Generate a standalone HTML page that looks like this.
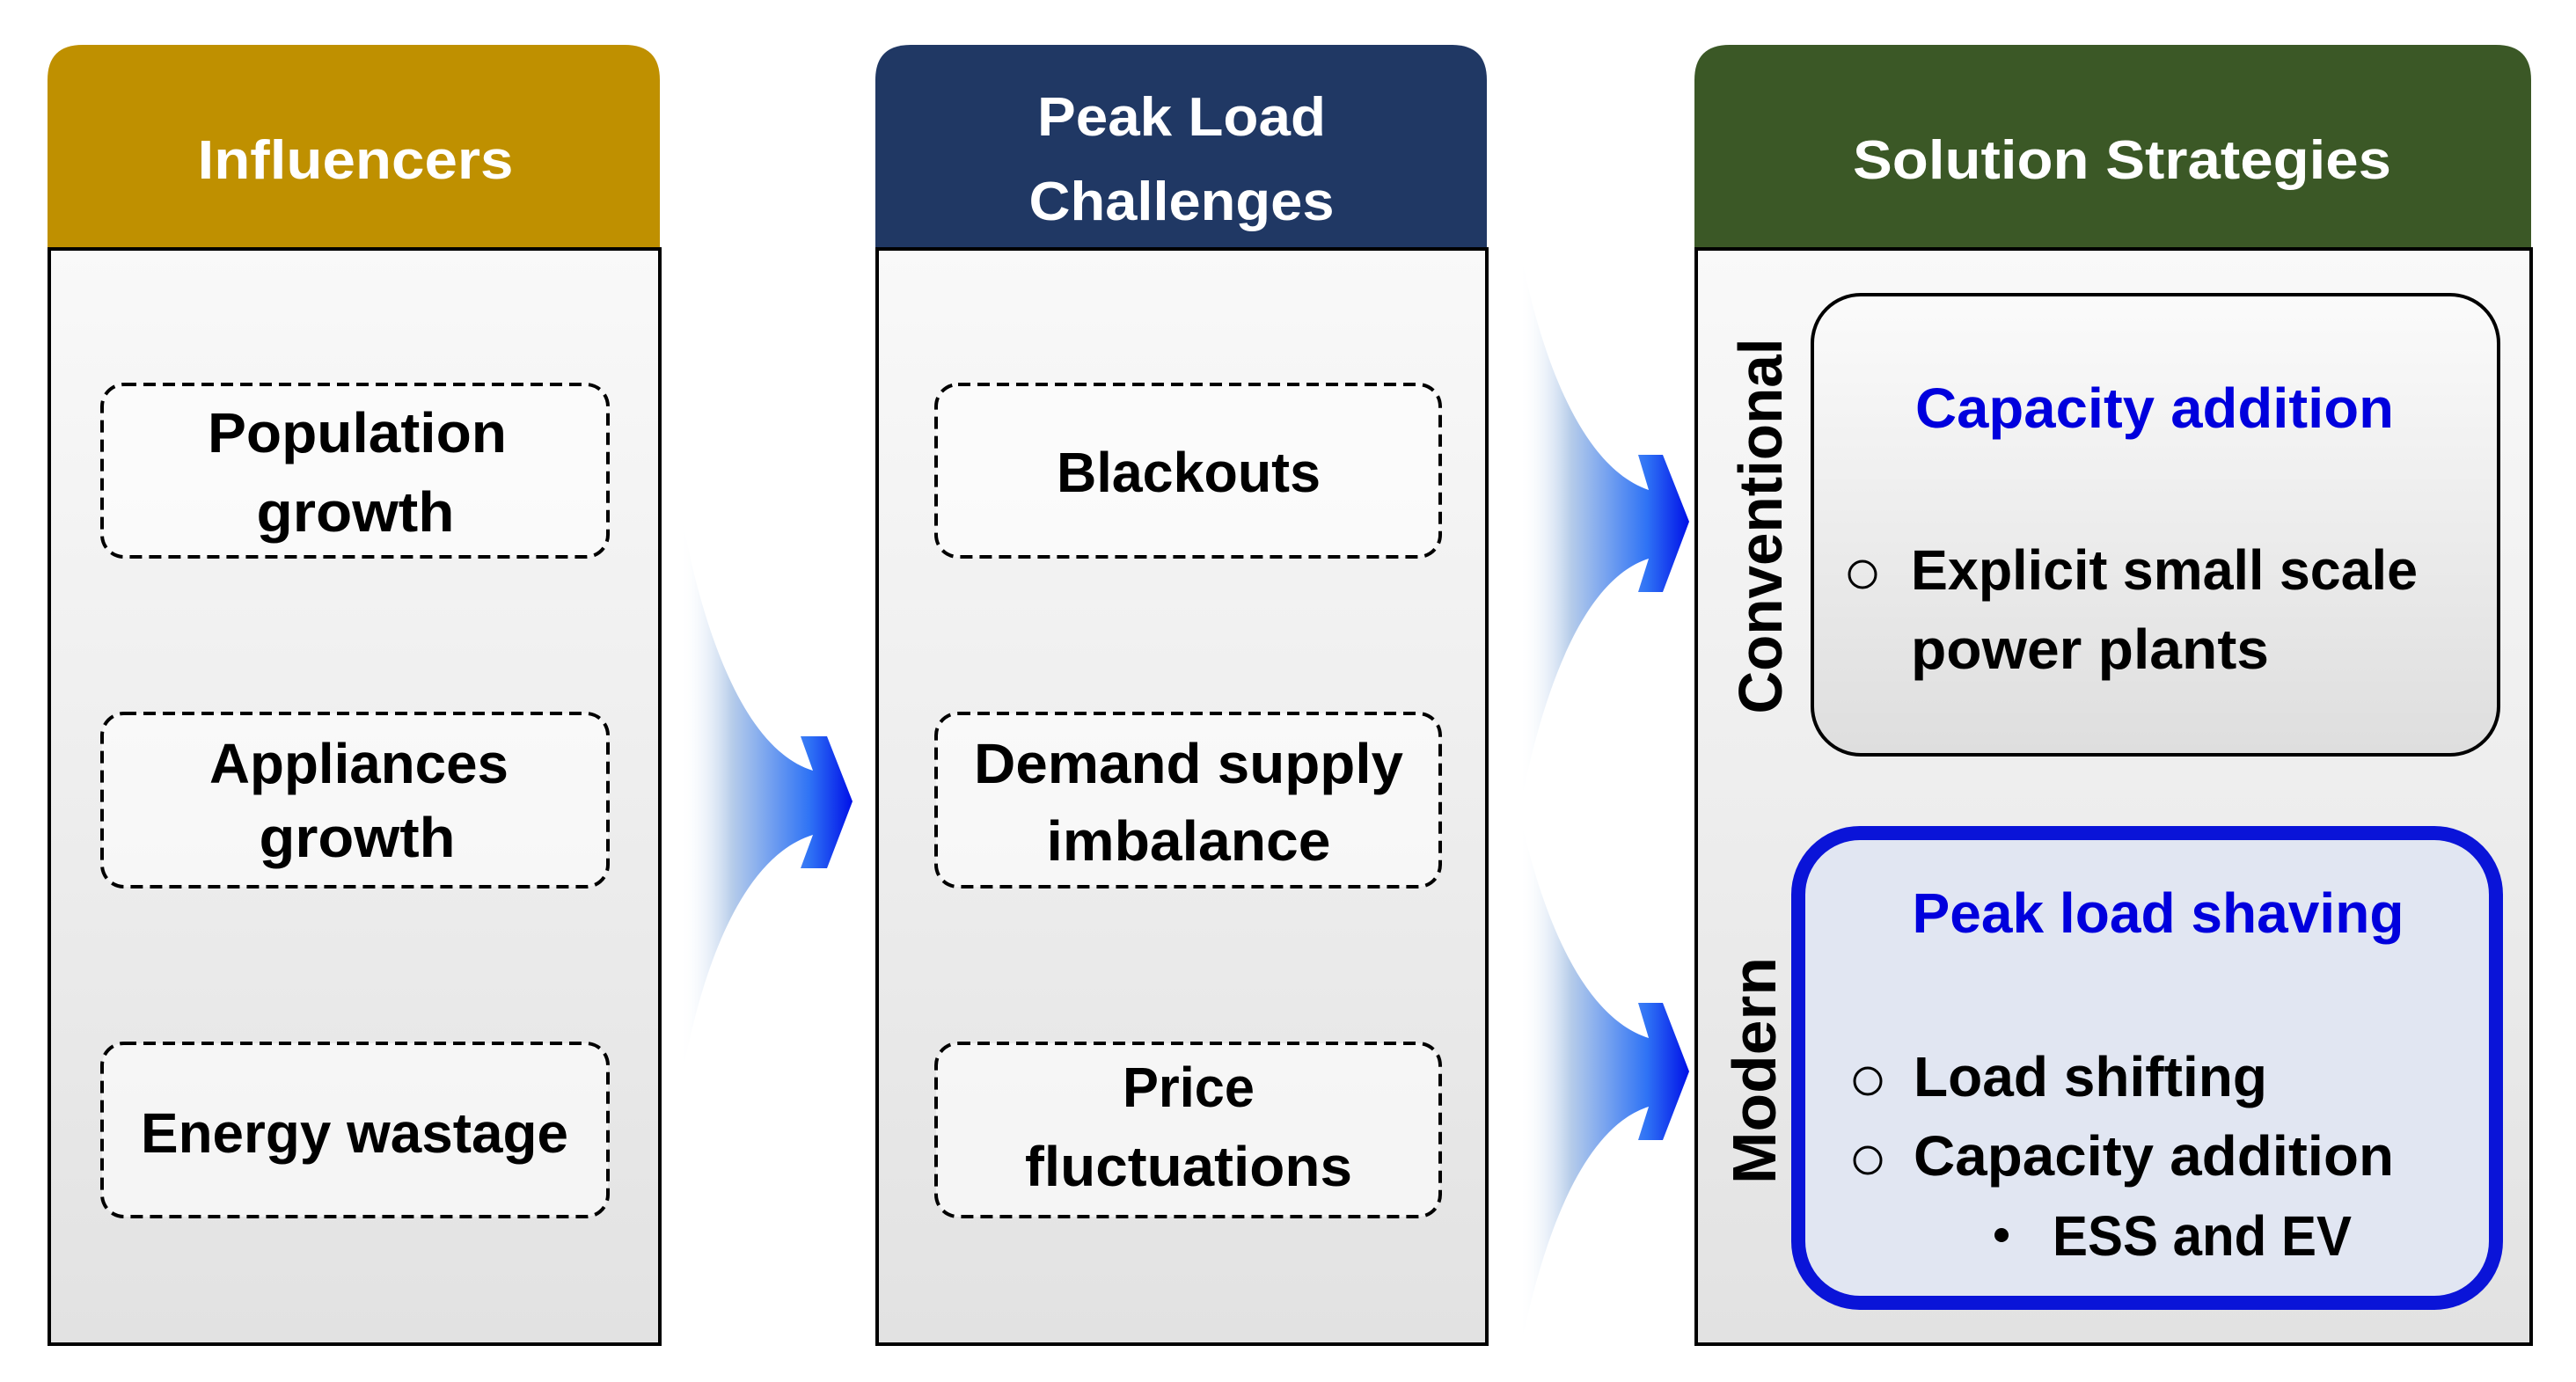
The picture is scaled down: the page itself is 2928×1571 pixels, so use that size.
<!DOCTYPE html>
<html><head><meta charset="utf-8"><style>
html,body{margin:0;padding:0;background:#fff;}
svg{display:block;}
text{font-family:"Liberation Sans",sans-serif;font-weight:bold;}
</style></head><body>
<svg width="2928" height="1571" viewBox="0 0 2928 1571" xmlns="http://www.w3.org/2000/svg">
<defs>
<linearGradient id="body" x1="0" y1="0" x2="0" y2="1"><stop offset="0" stop-color="#f9f9f9"/><stop offset="1" stop-color="#e2e2e2"/></linearGradient>
<linearGradient id="conv" x1="0" y1="0" x2="0" y2="1"><stop offset="0" stop-color="#fbfbfb"/><stop offset="1" stop-color="#dedede"/></linearGradient>
<linearGradient id="arr1" gradientUnits="userSpaceOnUse" x1="773" y1="0" x2="969" y2="0"><stop offset="0" stop-color="#ffffff" stop-opacity="0"/><stop offset="0.3" stop-color="#b7cdea"/><stop offset="0.75" stop-color="#2f73f5"/><stop offset="1" stop-color="#0010e8"/></linearGradient>
<linearGradient id="arr2" gradientUnits="userSpaceOnUse" x1="1727" y1="0" x2="1920" y2="0"><stop offset="0" stop-color="#ffffff" stop-opacity="0"/><stop offset="0.3" stop-color="#b7cdea"/><stop offset="0.75" stop-color="#2f73f5"/><stop offset="1" stop-color="#0010e8"/></linearGradient>
</defs>

<!-- Panel 1 -->
<path d="M54,283 L54,91 Q54,51 94,51 L710,51 Q750,51 750,91 L750,283 Z" fill="#bf9000"/>
<rect x="56" y="283" width="694" height="1245" fill="url(#body)" stroke="#000" stroke-width="4"/>
<text x="404" y="203" font-size="62" fill="#fff" text-anchor="middle" textLength="359" lengthAdjust="spacingAndGlyphs">Influencers</text>

<!-- Panel 2 -->
<path d="M995,283 L995,91 Q995,51 1035,51 L1650,51 Q1690,51 1690,91 L1690,283 Z" fill="#203864"/>
<rect x="997" y="283" width="693" height="1245" fill="url(#body)" stroke="#000" stroke-width="4"/>
<text x="1343" y="154" font-size="62" fill="#fff" text-anchor="middle" textLength="328" lengthAdjust="spacingAndGlyphs">Peak Load</text>
<text x="1343" y="250" font-size="62" fill="#fff" text-anchor="middle" textLength="347" lengthAdjust="spacingAndGlyphs">Challenges</text>

<!-- Panel 3 -->
<path d="M1926,283 L1926,91 Q1926,51 1966,51 L2837,51 Q2877,51 2877,91 L2877,283 Z" fill="#3b5826"/>
<rect x="1928" y="283" width="949" height="1245" fill="url(#body)" stroke="#000" stroke-width="4"/>
<text x="2412" y="203" font-size="62" fill="#fff" text-anchor="middle" textLength="612" lengthAdjust="spacingAndGlyphs">Solution Strategies</text>

<!-- Dashed boxes -->
<g fill="#fff" fill-opacity="0.6" stroke="#000" stroke-width="4" stroke-dasharray="14 8">
<rect x="116" y="437" width="575" height="196" rx="25"/>
<rect x="116" y="811" width="575" height="197" rx="25"/>
<rect x="116" y="1186" width="575" height="197" rx="25"/>
<rect x="1064" y="437" width="573" height="196" rx="25"/>
<rect x="1064" y="811" width="573" height="197" rx="25"/>
<rect x="1064" y="1186" width="573" height="197" rx="25"/>
</g>
<g font-size="64" fill="#000" text-anchor="middle">
<text x="406" y="514" textLength="340" lengthAdjust="spacingAndGlyphs">Population</text>
<text x="404" y="604" textLength="225" lengthAdjust="spacingAndGlyphs">growth</text>
<text x="408" y="890" textLength="340" lengthAdjust="spacingAndGlyphs">Appliances</text>
<text x="406" y="974" textLength="223" lengthAdjust="spacingAndGlyphs">growth</text>
<text x="403" y="1310" textLength="486" lengthAdjust="spacingAndGlyphs">Energy wastage</text>
<text x="1351" y="559" textLength="300" lengthAdjust="spacingAndGlyphs">Blackouts</text>
<text x="1351" y="890" textLength="488" lengthAdjust="spacingAndGlyphs">Demand supply</text>
<text x="1351" y="978" textLength="323" lengthAdjust="spacingAndGlyphs">imbalance</text>
<text x="1351" y="1258" textLength="150" lengthAdjust="spacingAndGlyphs">Price</text>
<text x="1351" y="1348" textLength="372" lengthAdjust="spacingAndGlyphs">fluctuations</text>
</g>

<!-- Conventional box -->
<rect x="2060" y="335" width="780" height="523" rx="55" fill="url(#conv)" stroke="#000" stroke-width="4"/>
<text x="2449" y="486" font-size="64" fill="#0000dd" text-anchor="middle" textLength="544" lengthAdjust="spacingAndGlyphs">Capacity addition</text>
<circle cx="2117" cy="653" r="15" fill="none" stroke="#000" stroke-width="3"/>
<text x="2172" y="670" font-size="64" textLength="576" lengthAdjust="spacingAndGlyphs">Explicit small scale</text>
<text x="2172" y="760" font-size="64" textLength="407" lengthAdjust="spacingAndGlyphs">power plants</text>

<!-- Modern box -->
<rect x="2044" y="947" width="793" height="534" rx="70" fill="#e1e6f2" stroke="#0a14d8" stroke-width="16"/>
<text x="2453" y="1060" font-size="64" fill="#0000dd" text-anchor="middle" textLength="559" lengthAdjust="spacingAndGlyphs">Peak load shaving</text>
<circle cx="2123" cy="1229" r="15" fill="none" stroke="#000" stroke-width="3"/>
<text x="2175" y="1246" font-size="64" textLength="402" lengthAdjust="spacingAndGlyphs">Load shifting</text>
<circle cx="2123" cy="1319" r="15" fill="none" stroke="#000" stroke-width="3"/>
<text x="2175" y="1336" font-size="64" textLength="546" lengthAdjust="spacingAndGlyphs">Capacity addition</text>
<circle cx="2275" cy="1404" r="8" fill="#000"/>
<text x="2333" y="1427" font-size="64" textLength="340" lengthAdjust="spacingAndGlyphs">ESS and EV</text>

<!-- vertical labels -->
<text transform="translate(2025,598) rotate(-90)" font-size="70" text-anchor="middle" textLength="427" lengthAdjust="spacingAndGlyphs">Conventional</text>
<text transform="translate(2018,1217) rotate(-90)" font-size="70" text-anchor="middle" textLength="258" lengthAdjust="spacingAndGlyphs">Modern</text>

<!-- Arrows -->
<path d="M773,577 C795,700 840,850 924,876 L910,837 L940,837 L969,911 L940,987 L910,987 L924,949 C840,975 795,1110 773,1235 Z" fill="url(#arr1)"/>
<path d="M1727,280 C1750,400 1795,530 1874,557 L1862,517 L1890,517 L1920,593 L1890,673 L1862,673 L1874,635 C1795,660 1750,800 1727,923 C1750,1030 1795,1155 1874,1180 L1862,1140 L1890,1140 L1920,1218 L1890,1296 L1862,1296 L1874,1258 C1795,1283 1750,1420 1727,1540 Z" fill="url(#arr2)"/>
</svg>
</body></html>
